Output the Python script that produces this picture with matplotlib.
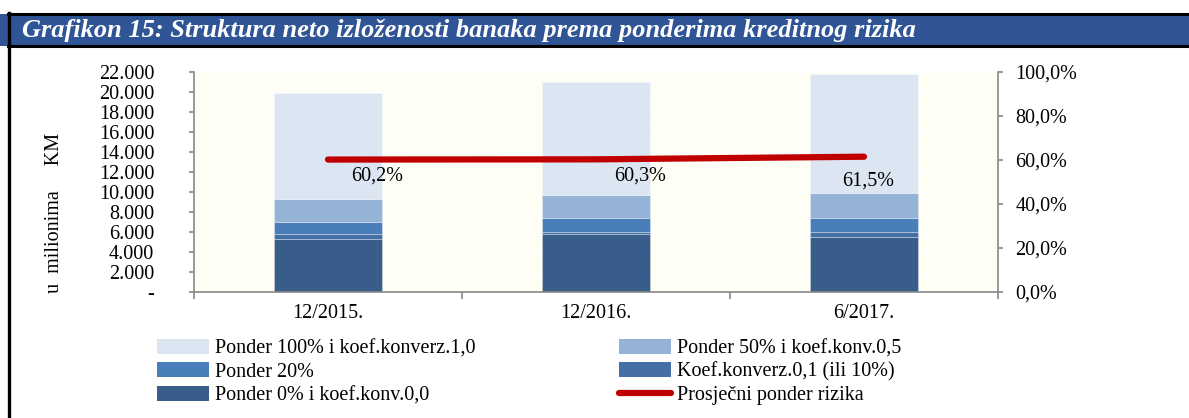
import matplotlib
matplotlib.use("Agg")
import matplotlib.pyplot as plt
import numpy as np
from matplotlib.patches import Rectangle, Patch
from matplotlib.lines import Line2D
from matplotlib.ticker import FuncFormatter, MultipleLocator

plt.rcParams['font.family'] = ['Liberation Serif', 'DejaVu Serif']

categories = ["12/2015.", "12/2016.", "6/2017."]
ponder0 = [5270, 5770, 5530]
koef01 = [500, 230, 440]
ponder20 = [1260, 1400, 1460]
ponder50 = [2300, 2340, 2500]
ponder100 = [10540, 11260, 11840]
avg_ponder = [60.2, 60.3, 61.5]
avg_labels = ["60,2%", "60,3%", "61,5%"]

series_names = ["Ponder 0% i koef.konv.0,0", "Koef.konverz.0,1 (ili 10%)", "Ponder 20%",
                "Ponder 50% i koef.konv.0,5", "Ponder 100% i koef.konverz.1,0"]
series_vals = [ponder0, koef01, ponder20, ponder50, ponder100]
colors = ["#385D8A", "#4470A6", "#4A7EBB", "#95B3D7", "#DCE6F2"]
line_name = "Prosječni ponder rizika"

FS = 14.5
W, H = 1189, 418
fig = plt.figure(figsize=(W / 100, H / 100), dpi=100)
fig.patch.set_facecolor("white")

# frame and header
fig.add_artist(Rectangle((0, 1 - 46 / H), 1, 32 / H, transform=fig.transFigure,
                         facecolor="#2F5597", edgecolor="none", zorder=0))
fig.add_artist(Line2D([8 / W, 1], [1 - 14 / H] * 2, transform=fig.transFigure, color="black", lw=2.2))
fig.add_artist(Line2D([8 / W, 1], [1 - 46 / H] * 2, transform=fig.transFigure, color="black", lw=2.2))
fig.add_artist(Line2D([8.5 / W] * 2, [0, 1 - 13 / H], transform=fig.transFigure, color="black", lw=2.4))
fig.text(22 / W, 1 - 31 / H, "Grafikon 15: Struktura neto izloženosti banaka prema ponderima kreditnog rizika",
         color="white", fontsize=19, fontweight="bold", fontstyle="italic", va="center", ha="left")

ax = fig.add_axes([194 / W, 1 - 292 / H, (998 - 194) / W, (292 - 72) / H])
ax.set_facecolor("#FFFEF4")
x = np.arange(len(categories))
bottom = np.zeros(len(categories))
for name, vals, c in zip(series_names, series_vals, colors):
    ax.bar(x, vals, width=0.40, bottom=bottom, color=c, edgecolor=(1, 1, 1, 0.35),
           linewidth=0.6, zorder=2, label=name)
    bottom += np.array(vals)

ax.set_xlim(-0.5, len(categories) - 0.5)
ax.set_ylim(0, 22000)
ax.yaxis.set_major_locator(MultipleLocator(2000))
ax.yaxis.set_major_formatter(FuncFormatter(lambda v, p: "-" if v == 0 else f"{int(v):,}".replace(",", ".")))
ax.grid(axis="y", color="white", lw=1.0, zorder=1)
ax.set_axisbelow(True)
ax.set_xticks(x)
ax.set_xticklabels(categories, fontsize=FS)
ax.set_xticks(np.arange(len(categories) + 1) - 0.5, minor=True)
ax.tick_params(axis="x", which="major", length=0, pad=9)
ax.tick_params(axis="x", which="minor", length=5, color="#888888", width=1.2)
ax.tick_params(axis="y", labelsize=FS, length=3.6, color="#888888", width=1.2, pad=25)
for lbl in ax.get_yticklabels():
    lbl.set_horizontalalignment("right")
for s in ["top", "right"]:
    ax.spines[s].set_visible(False)
ax.spines["left"].set_color("#888888")
ax.spines["bottom"].set_color("#888888")
ax.spines["left"].set_linewidth(1.2)
ax.spines["bottom"].set_linewidth(1.2)

ax2 = ax.twinx()
ax2.set_ylim(0, 100)
ax2.yaxis.set_major_locator(MultipleLocator(20))
ax2.yaxis.set_major_formatter(FuncFormatter(lambda v, p: f"{v:.1f}%".replace(".", ",")))
ax2.tick_params(axis="y", labelsize=FS, length=3.6, color="#888888", width=1.2, pad=9)
for s in ["top", "left", "bottom"]:
    ax2.spines[s].set_visible(False)
ax2.spines["right"].set_color("#888888")
ax2.spines["right"].set_linewidth(1.2)
ax2.plot(x, avg_ponder, color="#C00000", lw=4.5, solid_capstyle="round", zorder=5, label=line_name)

offsets = [(49, -16), (44, -17), (4, -24)]
for xi, yi, t, off in zip(x, avg_ponder, avg_labels, offsets):
    ax2.annotate(t, (xi, yi), xytext=off, textcoords="offset pixels", ha="center", va="center", fontsize=FS)

fig.text(55 / W, 1 - 213 / H, "u  milionima     KM", rotation=90, fontsize=FS, ha="center", va="center")

order = ["Ponder 100% i koef.konverz.1,0", "Ponder 20%", "Ponder 0% i koef.konv.0,0",
         "Ponder 50% i koef.konv.0,5", "Koef.konverz.0,1 (ili 10%)"]
leg_handles = [Patch(facecolor=colors[series_names.index(n)], edgecolor="none") for n in order]
leg_handles.append(Line2D([], [], color="#C00000", lw=4.5, solid_capstyle="round"))
leg_labels = order + [line_name]
fig.legend(leg_handles, leg_labels, ncol=2, loc="upper left", bbox_to_anchor=(157 / W, 1 - 339 / H),
           frameon=False, fontsize=FS, handlelength=2.6, handleheight=0.75, handletextpad=0.3,
           columnspacing=7.1, labelspacing=0.2, borderpad=0, borderaxespad=0)

fig.savefig("out.png", dpi=100)
